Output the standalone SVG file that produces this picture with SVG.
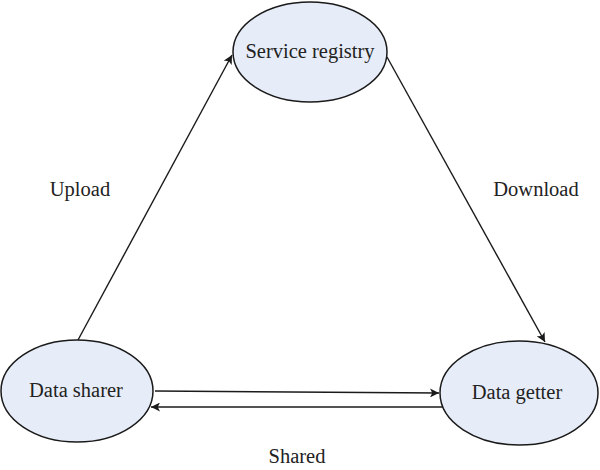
<svg xmlns="http://www.w3.org/2000/svg" width="600" height="470" viewBox="0 0 600 470">
<style>
.node{fill:#e7edf8;stroke:#1a1a1a;stroke-width:1.5}
.lbl{font-family:"Liberation Serif",serif;font-size:20.5px;fill:#222;text-anchor:middle}
.edge{stroke:#1a1a1a;stroke-width:1.4;fill:none;marker-end:url(#ah)}
</style>
<defs>
<marker id="ah" viewBox="0 0 10 10" refX="10" refY="5" markerWidth="9" markerHeight="9" markerUnits="userSpaceOnUse" orient="auto">
<path d="M0,0 L10,5 L0,10 L2.5,5 Z" fill="#1a1a1a"/>
</marker>
</defs>
<rect width="600" height="470" fill="#fff"/>
<g id="connectors">
<path class="edge" d="M78,340 L232,55"/>
<path class="edge" d="M387,57 L545,342"/>
<path class="edge" d="M155,391 L439,393"/>
<path class="edge" d="M443,407 L151,407"/>
</g>
<g id="service-registry">
<ellipse class="node" cx="310" cy="52" rx="77" ry="50"/>
<text class="lbl" x="310" y="58">Service registry</text>
</g>
<g id="data-sharer">
<ellipse class="node" cx="77" cy="391" rx="76" ry="51"/>
<text class="lbl" x="76" y="397">Data sharer</text>
</g>
<g id="data-getter">
<ellipse class="node" cx="519" cy="393" rx="79" ry="52"/>
<text class="lbl" x="517" y="399">Data getter</text>
</g>
<g id="labels">
<text class="lbl" x="80" y="196">Upload</text>
<text class="lbl" x="536" y="196">Download</text>
<text class="lbl" x="297" y="463">Shared</text>
</g>
</svg>
